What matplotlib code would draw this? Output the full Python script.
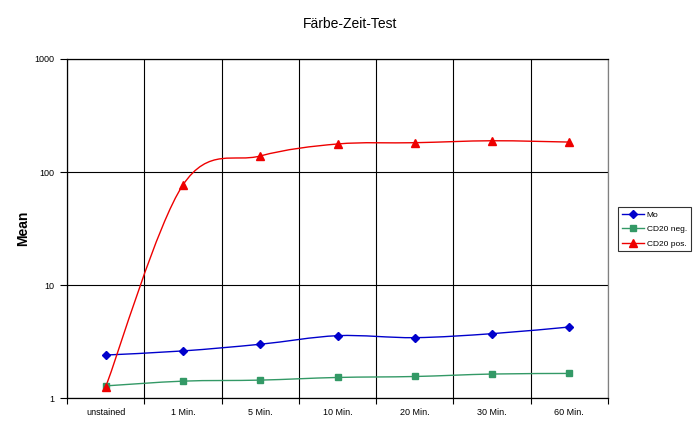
import numpy as np
import matplotlib.pyplot as plt
from matplotlib.path import Path
from matplotlib.patches import PathPatch
from matplotlib.ticker import FixedLocator, NullFormatter

plt.rcParams['font.family'] = ['Liberation Sans', 'DejaVu Sans']

# Data
categories = ["unstained", "1 Min.", "5 Min.", "10 Min.", "20 Min.", "30 Min.", "60 Min."]
mo = [2.40, 2.61, 2.99, 3.56, 3.42, 3.71, 4.25]
cd20_neg = [1.28, 1.41, 1.44, 1.52, 1.55, 1.63, 1.65]
cd20_pos = [1.25, 76.7, 138.6, 177.0, 181.6, 189.0, 184.0]

y_ticks = [1, 10, 100, 1000]


def smooth_path(xs, ys):
    # Excel-style smoothed line: cubic bezier segments (Catmull-Rom) in log space
    px = np.asarray(xs, float)
    py = np.log10(np.asarray(ys, float))
    n = len(px)
    verts = [(px[0], py[0])]
    codes = [Path.MOVETO]
    for i in range(n - 1):
        i0 = max(i - 1, 0)
        i3 = min(i + 2, n - 1)
        c1 = (px[i] + (px[i + 1] - px[i0]) / 6, py[i] + (py[i + 1] - py[i0]) / 6)
        c2 = (px[i + 1] - (px[i3] - px[i]) / 6, py[i + 1] - (py[i3] - py[i]) / 6)
        verts += [c1, c2, (px[i + 1], py[i + 1])]
        codes += [Path.CURVE4] * 3
    verts = [(x, 10 ** y) for x, y in verts]
    return Path(verts, codes)


fig = plt.figure(figsize=(7, 4.3), dpi=100)
ax = fig.add_axes([0.0957, 0.0744, 0.7729, 0.7884])

x = np.arange(len(categories))
series = [
    (mo, "Mo", "#0000CC", "D", 4),
    (cd20_neg, "CD20 neg.", "#339966", "s", 4.5),
    (cd20_pos, "CD20 pos.", "#EE0000", "^", 5.5),
]
for vals, label, color, marker, ms in series:
    ax.add_patch(PathPatch(smooth_path(x, vals), fill=False, edgecolor=color,
                           lw=1.0, zorder=3))
    ax.plot(x, vals, ls="none", marker=marker, color=color, ms=ms, zorder=4)
    ax.plot([], [], color=color, marker=marker, ms=ms, lw=1.0, label=label)

ax.set_yscale("log")
ax.set_ylim(1, 1000)
ax.set_xlim(-0.5, len(categories) - 0.5)

ax.set_yticks(y_ticks)
ax.set_yticklabels([str(t) for t in y_ticks])
ax.yaxis.set_minor_locator(FixedLocator([]))
ax.yaxis.set_minor_formatter(NullFormatter())
ax.tick_params(axis="y", which="major", direction="out", length=5, width=0.8,
               labelsize=6.5, pad=4)

ax.set_xticks(x)
ax.set_xticklabels(categories)
ax.xaxis.set_minor_locator(FixedLocator(np.arange(-0.5, len(categories), 1.0)))
ax.tick_params(axis="x", which="major", length=0, labelsize=6.5, pad=7)
ax.tick_params(axis="x", which="minor", direction="out", length=4, width=0.8)

ax.grid(True, axis="y", which="major", color="black", lw=0.8)
ax.grid(True, axis="x", which="minor", color="black", lw=0.8)
ax.set_axisbelow(True)
for sp in ax.spines.values():
    sp.set_linewidth(0.9)
    sp.set_color("black")
ax.spines["right"].set_color("#808080")

ax.set_ylabel("Mean", fontsize=10, fontweight="bold")
ax.yaxis.set_label_coords(-0.068, 0.5)
fig.text(0.5, 0.945, "Färbe-Zeit-Test", ha="center", va="center", fontsize=10)

leg = ax.legend(loc="upper left", bbox_to_anchor=(1.0185, 0.563), fontsize=6,
                frameon=True, fancybox=False, edgecolor="black",
                handlelength=2.7, handletextpad=0.3, borderpad=0.45,
                labelspacing=0.8, borderaxespad=0)
leg.get_frame().set_linewidth(0.8)

fig.savefig("out.png", dpi=100)
